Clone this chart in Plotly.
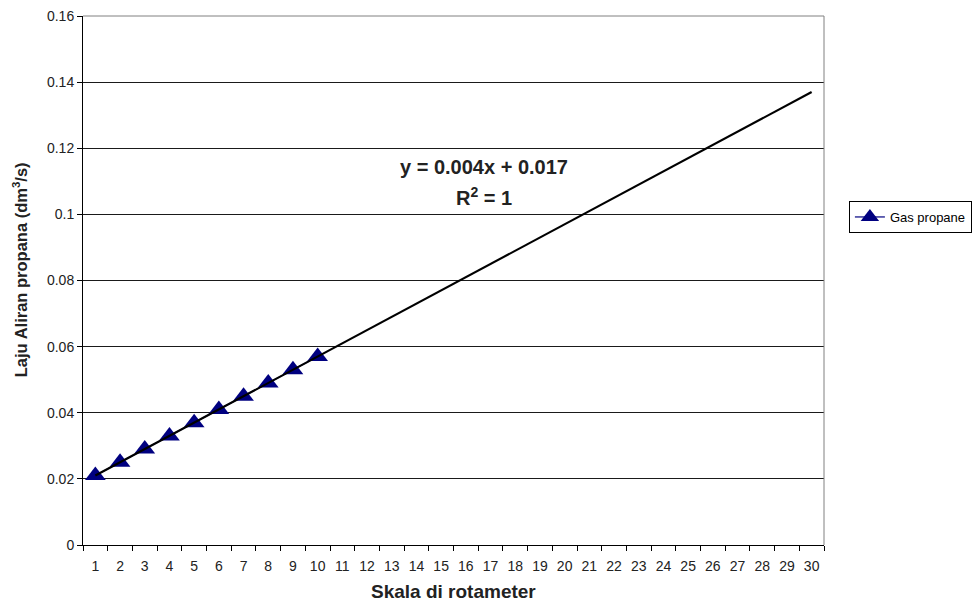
import plotly.graph_objects as go

categories = [str(i) for i in range(1, 31)]
scale = ["1", "2", "3", "4", "5", "6", "7", "8", "9", "10"]
flow = [0.021, 0.025, 0.029, 0.033, 0.037, 0.041, 0.045, 0.049, 0.053, 0.057]
trend_x = ["1", "30"]
trend_y = [0.021, 0.137]
y_ticks = [0, 0.02, 0.04, 0.06, 0.08, 0.1, 0.12, 0.14, 0.16]
y_labels = ["0", "0.02", "0.04", "0.06", "0.08", "0.1", "0.12", "0.14", "0.16"]

font = "Liberation Sans, Arial, sans-serif"

# page has an 8px body margin, so the figure is sized/offset to compensate
W, H = 972, 598
L, T, PW, PH = 75, 8, 744, 529

fig = go.Figure()
fig.add_trace(go.Scatter(x=scale, y=flow, mode="markers+lines", name="Gas propane",
                         marker=dict(symbol="triangle-up", size=18, color="#000080",
                                     line=dict(width=0)),
                         line=dict(color="#000080", width=1.2)))
fig.add_trace(go.Scatter(x=trend_x, y=trend_y, mode="lines",
                         line=dict(color="black", width=2.2),
                         showlegend=False, hoverinfo="skip"))

def px_x(x):
    return (x - 8 - L) / PW

def px_y(y):
    return (T + PH - (y - 8)) / PH

fig.update_layout(
    width=W, height=H,
    margin=dict(l=L, r=W - L - PW, t=T, b=H - T - PH),
    paper_bgcolor="white", plot_bgcolor="white",
    font=dict(family=font, size=14, color="black"),
    showlegend=True,
    legend=dict(x=px_x(852), y=px_y(217), xanchor="left", yanchor="middle",
                bordercolor="black", borderwidth=1, bgcolor="white",
                font=dict(size=13, family=font), itemwidth=30,
                tracegroupgap=0),
    xaxis=dict(type="category", categoryorder="array", categoryarray=categories,
               tickson="boundaries", ticks="outside", ticklen=5, tickcolor="black",
               showline=True, linecolor="black", linewidth=1, mirror=False,
               showgrid=False, zeroline=False, automargin=False,
               tickangle=0, ticklabeloverflow="allow", ticklabelstandoff=8,
               range=[-0.5, 29.5],
               tickfont=dict(size=14, color="#222222")),
    yaxis=dict(range=[0, 0.16], tickvals=y_ticks, ticktext=y_labels,
               ticks="outside", ticklen=5, tickcolor="black",
               showline=True, linecolor="black", linewidth=1,
               showgrid=True, gridcolor="#1a1a1a", gridwidth=0.8,
               zeroline=False, automargin=False, ticklabeloverflow="allow",
               tickfont=dict(size=14, color="#222222")),
    annotations=[
        dict(x=px_x(486), y=px_y(167), xref="paper", yref="paper", yanchor="middle",
             text="<b>y = 0.004x + 0.017</b>",
             showarrow=False, font=dict(size=20, family=font, color="#222222")),
        dict(x=px_x(486), y=px_y(196), xref="paper", yref="paper", yanchor="middle",
             text="<b>R<sup>2</sup> = 1</b>",
             showarrow=False, font=dict(size=20, family=font, color="#222222")),
        dict(x=px_x(455), y=px_y(591), xref="paper", yref="paper", yanchor="middle",
             text="<b>Skala di rotameter</b>", showarrow=False,
             font=dict(size=19, family=font, color="#222222")),
        dict(x=px_x(20), y=px_y(270), xref="paper", yref="paper",
             xanchor="center", yanchor="middle",
             text="<b>Laju Aliran propana (dm<sup>3</sup>/s)</b>", showarrow=False,
             textangle=-90, font=dict(size=16.5, family=font, color="#222222")),
    ],
    shapes=[dict(type="line", xref="paper", yref="paper", x0=1, x1=1, y0=0, y1=1,
                 line=dict(color="#808080", width=1)),
            dict(type="line", xref="paper", yref="paper", x0=0, x1=1, y0=1, y1=1,
                 line=dict(color="#808080", width=1))],
)

fig.write_html("out.html")
